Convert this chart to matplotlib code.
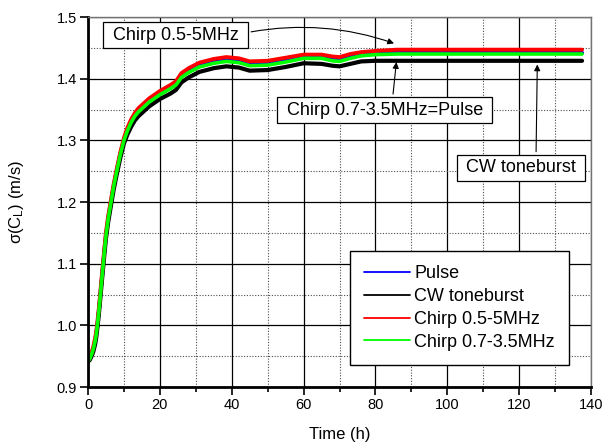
import numpy as np
import matplotlib
matplotlib.use('Agg')
import matplotlib.pyplot as plt
from matplotlib.ticker import MultipleLocator

plt.rcParams['font.family'] = ['Liberation Sans', 'DejaVu Sans']
plt.rcParams['mathtext.default'] = 'regular'

# time (h)
t = [0, 0.5, 1, 1.5, 2, 2.3, 2.6, 3.0, 3.4, 3.8, 4.2, 4.6, 5.0, 5.6, 6.4, 7.2,
     8.0, 9.0, 10, 11, 12, 13, 14, 17, 20, 23, 24.5, 26, 28, 31, 35, 38.5, 42,
     45, 50, 55, 60, 65, 68, 70, 73, 76, 80, 86, 95, 105, 115, 125, 137.5]

pulse = [0.942, 0.947, 0.954, 0.963, 0.976, 0.987, 1.001, 1.023, 1.048, 1.074,
         1.099, 1.124, 1.147, 1.173, 1.201, 1.228, 1.251, 1.278, 1.301, 1.318,
         1.331, 1.341, 1.348,
         1.364, 1.376, 1.386, 1.392, 1.404, 1.412, 1.421, 1.427, 1.430, 1.428,
         1.423, 1.424, 1.429, 1.435, 1.435, 1.431, 1.430, 1.435, 1.439, 1.441,
         1.442, 1.442, 1.442, 1.442, 1.442, 1.442]
cw = [0.941, 0.944, 0.950, 0.958, 0.970, 0.981, 0.995, 1.017, 1.042, 1.068,
      1.093, 1.118, 1.141, 1.167, 1.195, 1.222, 1.245, 1.272, 1.295, 1.310,
      1.322, 1.332, 1.339,
      1.355, 1.367, 1.376, 1.382, 1.394, 1.402, 1.411, 1.417, 1.420, 1.418,
      1.413, 1.414, 1.419, 1.425, 1.424, 1.421, 1.420, 1.424, 1.428, 1.429,
      1.429, 1.429, 1.429, 1.429, 1.429, 1.429]
chirp_05_5 = [0.943, 0.948, 0.956, 0.966, 0.980, 0.991, 1.005, 1.027, 1.052,
              1.078, 1.103, 1.128, 1.151, 1.177, 1.204, 1.231, 1.254, 1.281,
              1.304, 1.321, 1.334, 1.344, 1.352,
              1.368, 1.380, 1.390, 1.396, 1.409, 1.417, 1.426, 1.432, 1.435,
              1.433, 1.428, 1.429, 1.434, 1.439, 1.439, 1.436, 1.435, 1.440,
              1.443, 1.445, 1.447, 1.447, 1.447, 1.447, 1.447, 1.447]
chirp_07_35 = [0.942, 0.946, 0.953, 0.962, 0.975, 0.986, 1.000, 1.022, 1.047,
               1.073, 1.098, 1.123, 1.146, 1.172, 1.200, 1.227, 1.250, 1.277,
               1.300, 1.316, 1.329, 1.339, 1.346,
               1.362, 1.374, 1.384, 1.390, 1.402, 1.410, 1.419, 1.425, 1.428,
               1.426, 1.421, 1.422, 1.427, 1.433, 1.433, 1.429, 1.428, 1.433,
               1.437, 1.439, 1.440, 1.440, 1.440, 1.440, 1.440, 1.440]

fig = plt.figure(figsize=(6.13, 4.43), dpi=100)
ax = fig.add_axes([0.1436, 0.1264, 0.8206, 0.8352])

kw = dict(solid_joinstyle='round', solid_capstyle='round')
ax.plot(t, pulse, color='#0000ff', lw=2.8, label='Pulse', **kw)
ax.plot(t, cw, color='k', lw=3.0, label='CW toneburst', **kw)
ax.plot(t, chirp_05_5, color='#ff0000', lw=2.8, label='Chirp 0.5-5MHz', **kw)
ax.plot(t, chirp_07_35, color='#00ff00', lw=2.6, label='Chirp 0.7-3.5MHz', **kw)

ax.set_xlim(0, 140)
ax.set_ylim(0.9, 1.5)
ax.xaxis.set_major_locator(MultipleLocator(20))
ax.xaxis.set_minor_locator(MultipleLocator(10))
ax.yaxis.set_major_locator(MultipleLocator(0.1))
ax.yaxis.set_minor_locator(MultipleLocator(0.05))
ax.yaxis.set_major_formatter(plt.FormatStrFormatter('%.1f'))

ax.set_axisbelow(True)
ax.grid(which='major', color='k', lw=0.9, ls='-')
ax.grid(which='minor', color='0.3', lw=0.8, ls=(0, (1, 1.5)))

for s in ['top', 'right']:
    ax.spines[s].set_color('0.45')
    ax.spines[s].set_linewidth(1.0)
for s in ['left', 'bottom']:
    ax.spines[s].set_linewidth(2.0)

ax.tick_params(which='major', direction='out', length=6, width=1.2,
               labelsize=10.5, pad=2)
ax.tick_params(axis='x', which='minor', direction='out', length=3.5, width=1.2)
ax.tick_params(axis='y', which='minor', length=0)

ax.set_xlabel('Time (h)', fontsize=12)
ax.set_ylabel('σ(C$_{\\mathregular{L}}$) (m/s)', fontsize=12)
ax.xaxis.set_label_coords(0.5, -0.108)
ax.yaxis.set_label_coords(-0.124, 0.5)

box = dict(boxstyle='square,pad=0.25', fc='white', ec='k', lw=0.9)
arr = dict(arrowstyle='-|>', color='k', lw=0.8, mutation_scale=9)

ax.annotate(' Chirp 0.5-5MHz ', xy=(85.9, 1.4557), xytext=(24.35, 1.4708),
            ha='center', va='center', fontsize=13, bbox=box,
            arrowprops=dict(arr, connectionstyle='arc3,rad=-0.14', relpos=(1.0, 0.6)))
ax.annotate(' Chirp 0.7-3.5MHz=Pulse ', xy=(85.9, 1.4314), xytext=(82.6, 1.3487),
            ha='center', va='center', fontsize=13, bbox=box,
            arrowprops=dict(arr, relpos=(0.536, 1.0)))
ax.annotate(' CW toneburst ', xy=(125.05, 1.4275), xytext=(120.5, 1.2552),
            ha='center', va='center', fontsize=13, bbox=box,
            arrowprops=dict(arr, relpos=(0.625, 1.0)))

leg = ax.legend(loc='upper left', bbox_to_anchor=(0.5209, 0.3676),
                borderaxespad=0, fontsize=13, fancybox=False, framealpha=1,
                edgecolor='k', handlelength=2.5, handletextpad=0.25,
                labelspacing=0.32, borderpad=0.8)
leg.get_frame().set_linewidth(1.0)
for l in leg.get_lines():
    l.set_linewidth(1.3)

fig.savefig('out.png', dpi=100)
